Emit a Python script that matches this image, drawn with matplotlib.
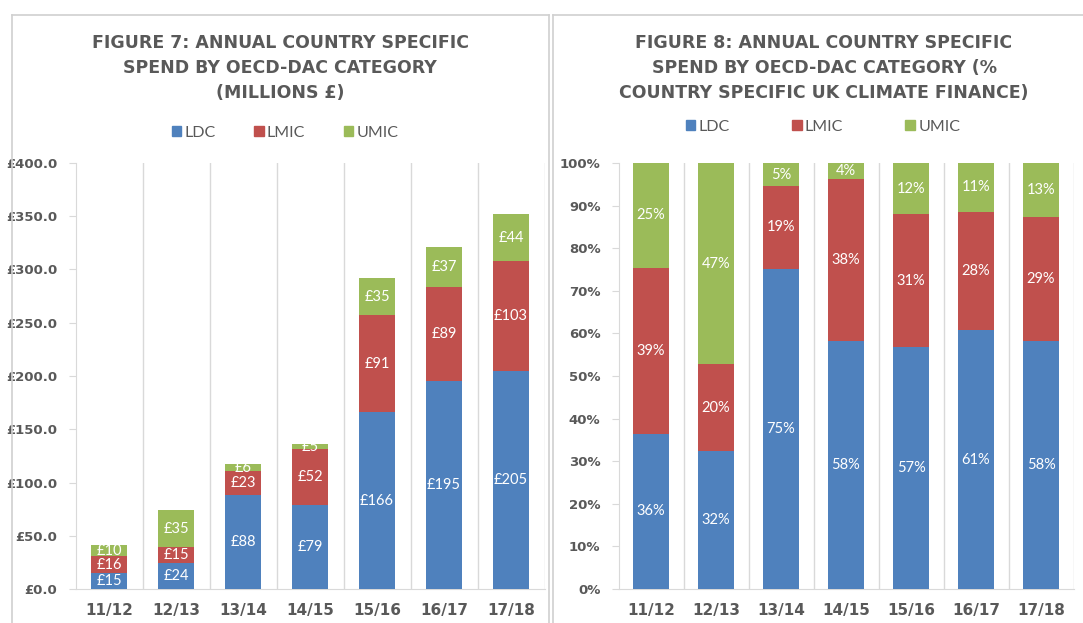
import numpy as np
import matplotlib.pyplot as plt
from matplotlib.patches import Patch
from matplotlib.lines import Line2D

# ------------------------------------------------------------
# Daten
# ------------------------------------------------------------
years = ['11/12', '12/13', '13/14', '14/15', '15/16', '16/17', '17/18']
series = ['LDC', 'LMIC', 'UMIC']

# Figure 7: Millionen £
spend_ldc = [15, 24, 88, 79, 166, 195, 205]
spend_lmic = [16, 15, 23, 52, 91, 89, 103]
spend_umic = [10, 35, 6, 5, 35, 37, 44]

# Figure 8: Anteil in %
pct_ldc = [36.4, 32.4, 75.2, 58.1, 56.8, 60.7, 58.2]
pct_lmic = [39.0, 20.3, 19.4, 38.2, 31.2, 27.9, 29.2]
pct_umic = [24.6, 47.3, 5.4, 3.7, 12.0, 11.4, 12.6]

y_ticks_left = [0, 50, 100, 150, 200, 250, 300, 350, 400]
y_ticks_right = [0, 10, 20, 30, 40, 50, 60, 70, 80, 90, 100]

colors = ['#4F81BD', '#C0504D', '#9BBB59']
grey = '#595959'
line_grey = '#D9D9D9'

W, H = 1083, 623
fig = plt.figure(figsize=(W / 100, H / 100), dpi=100)


def px(x, y):
    return x / W, 1 - y / H


# Panel-Rahmen
for xs, ys in [([12, 12], [15, 623]), ([12, 549], [15, 15]), ([549, 549], [15, 623]),
               ([553, 553], [15, 623]), ([553, 1083], [15, 15])]:
    fig.add_artist(Line2D([x / W for x in xs], [1 - y / H for y in ys],
                          color='#D0D0D0', lw=1.2))


def stacked(ax, data, fmt, yticks, ylabels):
    x = np.arange(len(years))
    bottom = np.zeros(len(years))
    for vals, c in zip(data, colors):
        vals = np.array(vals, dtype=float)
        ax.bar(x, vals, 0.55, bottom=bottom, color=c, zorder=3)
        for xi, b, v in zip(x, bottom, vals):
            ax.text(xi, b + v / 2, fmt(v), ha='center', va='center',
                    color='white', fontsize=10.5, family='Lato', zorder=4)
        bottom += vals
    ax.set_xlim(-0.5, len(years) - 0.5)
    ax.set_ylim(yticks[0], yticks[-1])
    ax.set_yticks(yticks)
    ax.set_yticklabels(ylabels)
    ax.set_xticks(x)
    ax.set_xticklabels(years)
    for k in range(1, len(years) + 1):
        ax.axvline(k - 0.5, color=line_grey, lw=1, zorder=1)
    for s in ['top', 'right']:
        ax.spines[s].set_visible(False)
    ax.spines['left'].set_color(line_grey)
    ax.spines['bottom'].set_color(line_grey)
    ax.tick_params(axis='x', length=0, pad=10, labelsize=11, labelcolor=grey)
    ax.tick_params(axis='y', length=5, color=line_grey, pad=8,
                   labelsize=9.5, labelcolor=grey)
    for lab in ax.get_xticklabels() + ax.get_yticklabels():
        lab.set_fontweight('bold')


# Figure 7
ax1 = fig.add_axes([75.5 / W, 1 - 589 / H, 469 / W, 426 / H])
stacked(ax1, [spend_ldc, spend_lmic, spend_umic],
        lambda v: f'£{v:.0f}', y_ticks_left, [f'£{t:.1f}' for t in y_ticks_left])

# Figure 8
ax2 = fig.add_axes([618.5 / W, 1 - 589 / H, 455 / W, 426 / H])
stacked(ax2, [pct_ldc, pct_lmic, pct_umic],
        lambda v: f'{round(v)}%', y_ticks_right, [f'{t}%' for t in y_ticks_right])

# Titel
title_kw = dict(ha='center', va='center', fontsize=12.5, fontweight='bold',
                color=grey, linespacing=1.5)
fig.text(*px(280, 68), 'FIGURE 7: ANNUAL COUNTRY SPECIFIC\nSPEND BY OECD-DAC CATEGORY\n(MILLIONS £)',
         **title_kw)
fig.text(*px(824, 68), 'FIGURE 8: ANNUAL COUNTRY SPECIFIC\nSPEND BY OECD-DAC CATEGORY (%\nCOUNTRY SPECIFIC UK CLIMATE FINANCE)',
         **title_kw)

# Legenden
handles = [Patch(color=c, label=s) for c, s in zip(colors, series)]
leg_font = {'family': 'Lato', 'size': 11.5}
leg_kw = dict(loc='center', ncol=3, frameon=False, handlelength=0.6, handleheight=0.6,
              handletextpad=0.2, prop=leg_font)
l1 = fig.legend(handles=handles, bbox_to_anchor=px(285, 133), columnspacing=2.4, **leg_kw)
l2 = fig.legend(handles=handles, bbox_to_anchor=px(823, 127), columnspacing=3.9, **leg_kw)
for leg in (l1, l2):
    for t in leg.get_texts():
        t.set_color(grey)

fig.savefig('out.png', dpi=100)
